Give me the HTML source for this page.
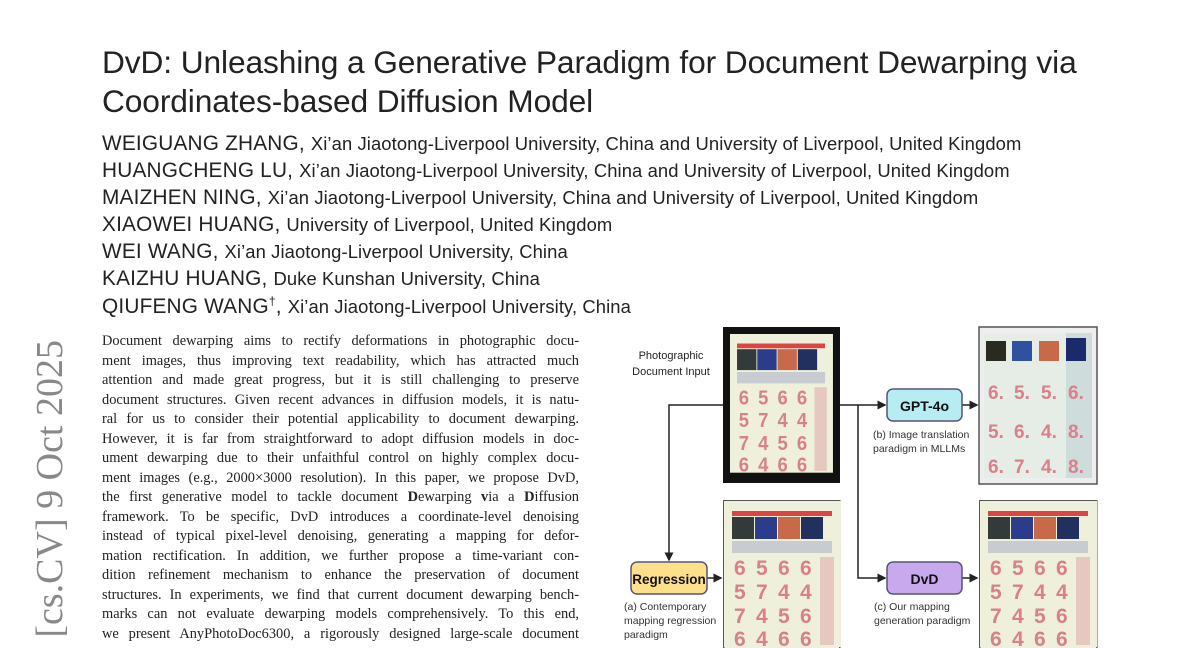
<!DOCTYPE html>
<html><head><meta charset="utf-8"><style>
html,body{margin:0;width:1200px;height:648px;overflow:hidden}
body{background:#fff;position:relative;font-family:"Liberation Sans",sans-serif;color:#222}
.t{position:absolute;left:102px;font-size:31.7px;line-height:39px;top:43px;color:#222;letter-spacing:-0.1px}
.a{position:absolute;left:102px;font-size:20.8px;white-space:nowrap;letter-spacing:0.2px}
.a span{font-size:18.4px;letter-spacing:0.1px}
.abs{position:absolute;left:102px;top:332px;width:477px;height:312px;overflow:hidden;font-family:"Liberation Serif",serif;font-size:14.4px;line-height:19.5px;color:#222}
.abs div{text-align:justify;text-align-last:justify;white-space:nowrap}
.side{position:absolute;left:28px;top:648px;width:308px;height:44px;overflow:hidden;transform:rotate(-90deg);transform-origin:top left}
.side div{position:absolute;right:0;top:0;width:700px;text-align:right;font-family:"Liberation Serif",serif;font-size:38px;line-height:44px;color:#888;white-space:nowrap}
</style></head><body>
<div class="t">DvD: Unleashing a Generative Paradigm for Document Dewarping via<br>Coordinates-based Diffusion Model</div>
<div class="a" style="top:132px">WEIGUANG ZHANG, <span>Xi’an Jiaotong-Liverpool University, China and University of Liverpool, United Kingdom</span></div>
<div class="a" style="top:159px">HUANGCHENG LU, <span>Xi’an Jiaotong-Liverpool University, China and University of Liverpool, United Kingdom</span></div>
<div class="a" style="top:186px">MAIZHEN NING, <span>Xi’an Jiaotong-Liverpool University, China and University of Liverpool, United Kingdom</span></div>
<div class="a" style="top:213px">XIAOWEI HUANG, <span>University of Liverpool, United Kingdom</span></div>
<div class="a" style="top:240px">WEI WANG, <span>Xi’an Jiaotong-Liverpool University, China</span></div>
<div class="a" style="top:267px">KAIZHU HUANG, <span>Duke Kunshan University, China</span></div>
<div class="a" style="top:294px">QIUFENG WANG<sup style="font-size:12px">†</sup>, <span>Xi’an Jiaotong-Liverpool University, China</span></div>
<div class="side"><div>arXiv:2505.21975v2 [cs.CV] 9 Oct 2025</div></div>
<div class="abs">
<div>Document dewarping aims to rectify deformations in photographic docu-</div>
<div>ment images, thus improving text readability, which has attracted much</div>
<div>attention and made great progress, but it is still challenging to preserve</div>
<div>document structures. Given recent advances in diffusion models, it is natu-</div>
<div>ral for us to consider their potential applicability to document dewarping.</div>
<div>However, it is far from straightforward to adopt diffusion models in doc-</div>
<div>ument dewarping due to their unfaithful control on highly complex docu-</div>
<div>ment images (e.g., 2000×3000 resolution). In this paper, we propose DvD,</div>
<div>the first generative model to tackle document <b>D</b>ewarping <b>v</b>ia a <b>D</b>iffusion</div>
<div>framework. To be specific, DvD introduces a coordinate-level denoising</div>
<div>instead of typical pixel-level denoising, generating a mapping for defor-</div>
<div>mation rectification. In addition, we further propose a time-variant con-</div>
<div>dition refinement mechanism to enhance the preservation of document</div>
<div>structures. In experiments, we find that current document dewarping bench-</div>
<div>marks can not evaluate dewarping models comprehensively. To this end,</div>
<div>we present AnyPhotoDoc6300, a rigorously designed large-scale document</div>
</div>
<svg style="position:absolute;left:0;top:0" width="1200" height="648" font-family="Liberation Sans,sans-serif">
<defs>
<marker id="ar" markerWidth="6" markerHeight="6" refX="5" refY="3" orient="auto"><path d="M0,0L6,3L0,6z" fill="#222"/></marker>
<g id="doc">
<rect x="0" y="0" width="117" height="146" fill="#eef0dc"/>
<rect x="8" y="10" width="100" height="5" fill="#d44"/>
<rect x="8" y="16" width="22" height="22" fill="#333a3a"/><rect x="31" y="16" width="22" height="22" fill="#2a3c8a"/><rect x="54" y="16" width="22" height="22" fill="#c86a4a"/><rect x="77" y="16" width="22" height="22" fill="#223060"/>
<rect x="8" y="40" width="100" height="12" fill="#c8ccd0"/>
<g font-size="21" fill="#d9808a" font-weight="bold">
<text x="10" y="74">6</text><text x="32" y="74">5</text><text x="54" y="74">6</text><text x="76" y="74">6</text>
<text x="10" y="98">5</text><text x="32" y="98">7</text><text x="54" y="98">4</text><text x="76" y="98">4</text>
<text x="10" y="122">7</text><text x="32" y="122">4</text><text x="54" y="122">5</text><text x="76" y="122">6</text>
<text x="10" y="145">6</text><text x="32" y="145">4</text><text x="54" y="145">6</text><text x="76" y="145">6</text></g>
<rect x="96" y="56" width="14" height="88" fill="#e5c8c0"/>
</g>
</defs>
<rect x="723" y="327" width="117" height="156" fill="#111"/>
<g transform="translate(730,334) scale(0.88,0.95)"><use href="#doc"/></g>
<rect x="979" y="327" width="118" height="157" fill="#eee" stroke="#555" stroke-width="1.5"/>
<g transform="translate(984,333)">
<rect width="108" height="145" fill="#e6ece6"/><rect x="82" y="0" width="26" height="145" fill="#cfdcdc"/>
<rect x="2" y="8" width="20" height="20" fill="#2a2a20"/><rect x="28" y="8" width="20" height="20" fill="#3050a0"/><rect x="55" y="8" width="20" height="20" fill="#c86a4a"/><rect x="82" y="5" width="20" height="23" fill="#1a2a6a"/>
<g font-size="19" fill="#d9808a" font-weight="bold"><text x="4" y="66">6.</text><text x="30" y="66">5.</text><text x="57" y="66">5.</text><text x="84" y="66">6.</text>
<text x="4" y="105">5.</text><text x="30" y="105">6.</text><text x="57" y="105">4.</text><text x="84" y="105">8.</text>
<text x="4" y="140">6.</text><text x="30" y="140">7.</text><text x="57" y="140">4.</text><text x="84" y="140">8.</text></g></g>
<svg x="723" y="500" width="118" height="148"><rect x="0.75" y="0.75" width="116" height="160" fill="#eee" stroke="#555" stroke-width="1.5"/><g transform="translate(1,1)"><use href="#doc"/></g></svg>
<svg x="979" y="500" width="119" height="148"><rect x="0.75" y="0.75" width="117" height="160" fill="#eee" stroke="#555" stroke-width="1.5"/><g transform="translate(1,1)"><use href="#doc"/></g></svg>
<g stroke="#222" stroke-width="1.5" fill="none">
<path d="M723,405H669V560" marker-end="url(#ar)"/>
<path d="M840,405H885" marker-end="url(#ar)"/>
<path d="M858,405V578H885" marker-end="url(#ar)"/>
<path d="M962,405H977" marker-end="url(#ar)"/>
<path d="M962,578H977" marker-end="url(#ar)"/>
<path d="M707,578H721" marker-end="url(#ar)"/>
</g>
<rect x="887" y="389" width="75" height="32" rx="6" fill="#b7ecf2" stroke="#557" stroke-width="1.5"/>
<text x="924.5" y="411" font-size="14" font-weight="bold" text-anchor="middle" fill="#111">GPT-4o</text>
<rect x="631" y="562" width="76" height="32" rx="6" fill="#fde08c" stroke="#557" stroke-width="1.5"/>
<text x="669" y="584" font-size="13.5" font-weight="bold" text-anchor="middle" fill="#111">Regression</text>
<rect x="887" y="562" width="75" height="32" rx="6" fill="#c9a9ee" stroke="#557" stroke-width="1.5"/>
<text x="924.5" y="584" font-size="14" font-weight="bold" text-anchor="middle" fill="#111">DvD</text>
<g font-size="11" fill="#222" text-anchor="middle"><text x="671" y="359">Photographic</text><text x="671" y="375">Document Input</text></g>
<g font-size="10.5" fill="#333"><text x="873" y="438">(b) Image translation</text><text x="873" y="452">paradigm in MLLMs</text>
<text x="624" y="610">(a) Contemporary</text><text x="624" y="624">mapping regression</text><text x="624" y="638">paradigm</text>
<text x="874" y="610">(c) Our mapping</text><text x="874" y="624">generation paradigm</text></g>
</svg>
</body></html>
